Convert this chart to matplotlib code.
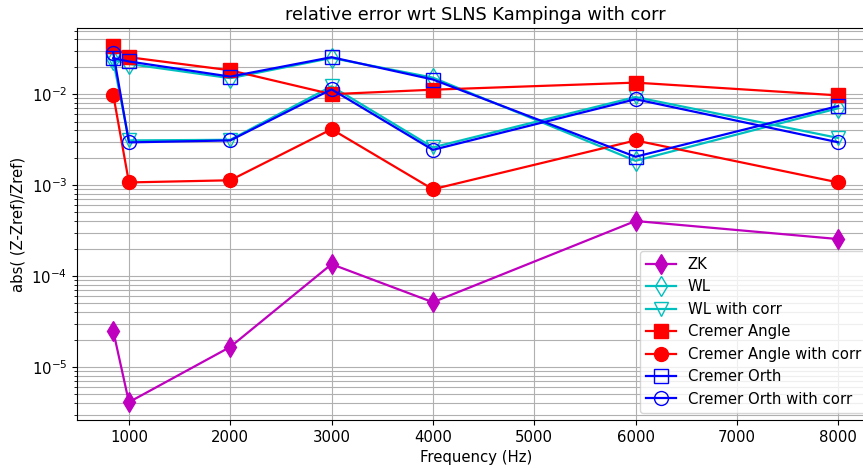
import matplotlib
matplotlib.use('Agg')
import matplotlib.pyplot as plt
import numpy as np

## frequencies (Hz) and relative errors
freq = [845, 1000, 2000, 3000, 4000, 6000, 8000]
err_zk = [2.49e-5, 4.1e-6, 1.66e-5, 1.35e-4, 5.15e-5, 4.03e-4, 2.55e-4]
err_wl = [0.0240, 0.0215, 0.0150, 0.0250, 0.0152, 1.85e-3, 7.0e-3]
err_wl_corr = [0.0235, 3.1e-3, 3.15e-3, 0.0122, 2.6e-3, 9.3e-3, 3.3e-3]
err_cremer_angle = [0.0340, 0.0255, 0.0183, 0.0100, 0.0112, 0.0134, 0.0097]
err_cremer_angle_corr = [0.0099, 1.07e-3, 1.13e-3, 4.12e-3, 9.0e-4, 3.1e-3, 1.07e-3]
err_cremer_orth = [0.0249, 0.0229, 0.0156, 0.0255, 0.0145, 2.05e-3, 7.4e-3]
err_cremer_orth_corr = [0.0287, 2.95e-3, 3.1e-3, 0.0113, 2.44e-3, 8.8e-3, 2.96e-3]

plt.rcParams['font.size'] = 10.7

fig = plt.figure(figsize=(8.63, 4.68), dpi=100)
# axes run past the right edge, the reference is cropped there
ax = fig.add_axes([0.0892, 0.1026, 0.924, 0.8375])

ms = 10
lw = 1.6
ax.semilogy(freq, err_zk, 'm-d', ms=ms, lw=lw, label='ZK')
ax.semilogy(freq, err_wl, 'c-d', ms=ms, lw=lw, mfc='none', label='WL')
ax.semilogy(freq, err_wl_corr, 'c-v', ms=ms, lw=lw, mfc='none', label='WL with corr')
ax.semilogy(freq, err_cremer_angle, 'r-s', ms=ms, lw=lw, label='Cremer Angle')
ax.semilogy(freq, err_cremer_angle_corr, 'r-o', ms=ms, lw=lw, label='Cremer Angle with corr')
ax.semilogy(freq, err_cremer_orth, 'b-s', ms=ms, lw=lw, mfc='none', label='Cremer Orth')
ax.semilogy(freq, err_cremer_orth_corr, 'b-o', ms=ms, lw=lw, mfc='none', label='Cremer Orth with corr')

ax.grid(True, which='both')
ax.set_title('relative error wrt SLNS Kampinga with corr', fontsize=12.8)
ax.set_xlabel('Frequency (Hz)')
ax.set_ylabel('abs( (Z-Zref)/Zref)')
ax.legend(loc='lower right')

fig.savefig('out.png', dpi=100)
